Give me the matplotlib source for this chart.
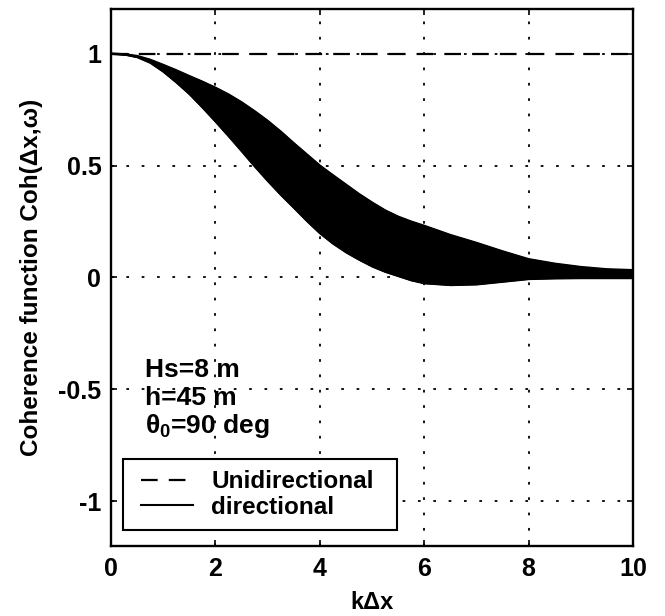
"""
Coherence function vs. k*dx: unidirectional and directional seas.
"""

import matplotlib.pyplot as plt
import numpy as np
from matplotlib.legend_handler import HandlerLine2D
from matplotlib.lines import Line2D

plt.rcParams["font.family"] = ["Liberation Sans", "DejaVu Sans"]
plt.rcParams["mathtext.fontset"] = "custom"
plt.rcParams["mathtext.rm"] = "Liberation Sans:bold"
plt.rcParams["mathtext.it"] = "Liberation Sans:bold"
plt.rcParams["mathtext.bf"] = "Liberation Sans:bold"

# k*dx samples and the envelope of the directional curves
kdx = [0, 0.25, 0.5, 0.75, 1, 1.25, 1.5, 1.75, 2, 2.25, 2.5, 2.75, 3,
       3.25, 3.5, 3.75, 4, 4.25, 4.5, 4.75, 5, 5.25, 5.5, 5.75, 6,
       6.5, 7, 7.5, 8, 8.5, 9, 9.5, 10]
coh_upper = [1.0, 0.998, 0.99, 0.973, 0.95, 0.926, 0.90, 0.875, 0.848, 0.818,
             0.783, 0.743, 0.70, 0.652, 0.60, 0.55, 0.50, 0.457, 0.415, 0.373,
             0.335, 0.30, 0.272, 0.25, 0.231,
             0.19, 0.155, 0.117, 0.082, 0.062, 0.047, 0.037, 0.033]
coh_lower = [1.0, 0.997, 0.985, 0.96, 0.92, 0.872, 0.82, 0.76, 0.697, 0.632,
             0.565, 0.497, 0.432, 0.37, 0.312, 0.253, 0.198, 0.152, 0.113, 0.08,
             0.05, 0.026, 0.007, -0.012, -0.025,
             -0.033, -0.03, -0.018, -0.006, -0.003, -0.002, -0.002, -0.002]
coh_uni = [1.0] * len(kdx)

params = ["Hs=8 m", "h=45 m", r"θ$_0$=90 deg"]

fig = plt.figure(figsize=(6.65, 6.16), dpi=100)
ax = fig.add_axes([0.167, 0.1136, 0.785, 0.872])

x = np.array(kdx)
ax.grid(True, color="black", linestyle=(0, (1.5, 7)), linewidth=1.3)
ax.set_axisbelow(True)

ax.plot(x, coh_uni, color="black", linewidth=1.6, dashes=(7.5, 5),
        label="Unidirectional")
ax.fill_between(x, coh_lower, coh_upper, color="black", linewidth=1.2)
ax.plot(x, coh_upper, color="black", linewidth=1.5, label="directional")
ax.plot(x, coh_lower, color="black", linewidth=1.5)

ax.set_xlim(0, 10)
ax.set_ylim(-1.2, 1.2)
ax.set_xticks([0, 2, 4, 6, 8, 10])
ax.set_yticks([-1, -0.5, 0, 0.5, 1])
ax.set_yticklabels(["-1", "-0.5", "0", "0.5", "1"])

ax.tick_params(direction="in", length=4, width=1.2, top=True, right=True,
               labelsize=18)
ax.tick_params(axis="x", pad=8)
ax.tick_params(axis="y", pad=7)
for lab in ax.get_xticklabels() + ax.get_yticklabels():
    lab.set_fontweight("bold")
for sp in ax.spines.values():
    sp.set_linewidth(1.7)

ax.set_xlabel("kΔx", fontsize=17, fontweight="bold", labelpad=7)
ax.set_ylabel("Coherence function Coh(Δx,ω)", fontsize=17.5, fontweight="bold",
              labelpad=11)

for i, txt in enumerate(params):
    ax.text(0.65, -0.447 - 0.124 * i, txt, fontsize=19, fontweight="bold",
            va="baseline", ha="left")

leg = ax.legend(loc="lower left", bbox_to_anchor=(0.0224, 0.03, 0.5255, 0.1),
                mode="expand", borderaxespad=0,
                fancybox=False, framealpha=1, edgecolor="black",
                prop={"size": 17.5, "weight": "bold"},
                handlelength=2.45, handletextpad=0.75, labelspacing=0.12,
                borderpad=0.45,
                handler_map={Line2D: HandlerLine2D(xpad=0.3)})
leg.get_frame().set_linewidth(1.5)

fig.savefig("out.png", dpi=100)
